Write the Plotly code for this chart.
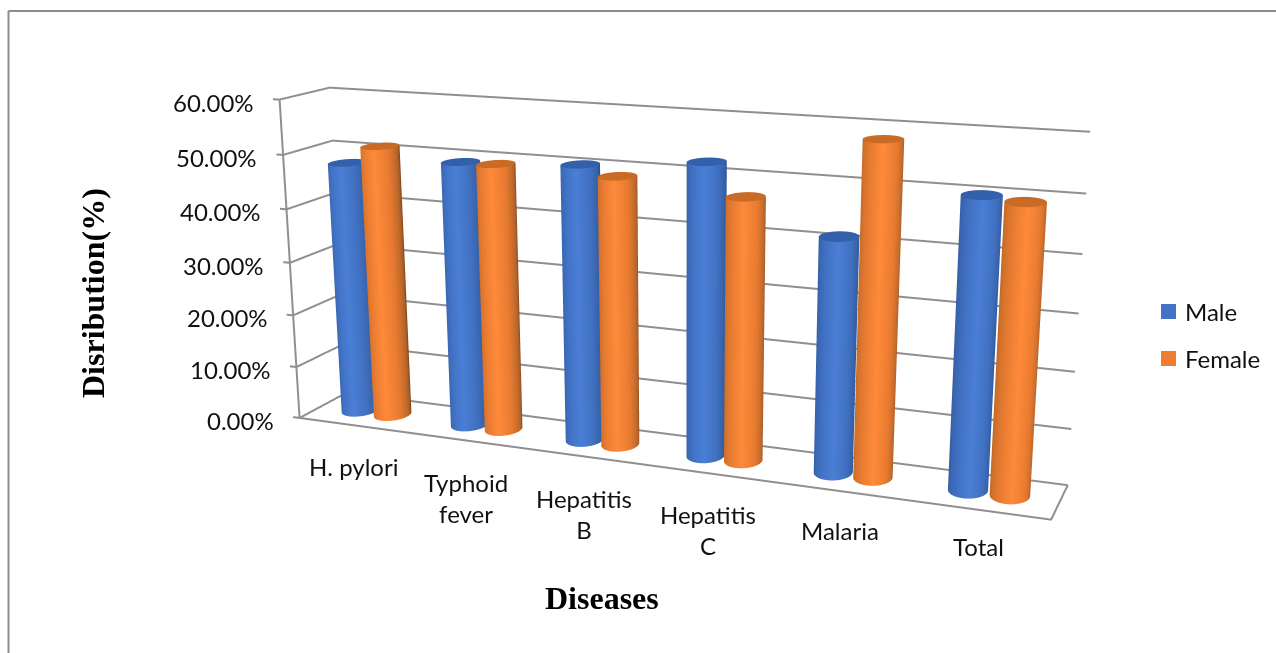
import numpy as np
import plotly.graph_objects as go

categories = ["H. pylori", "Typhoid<br>fever", "Hepatitis<br>B", "Hepatitis<br>C", "Malaria", "Total"]
male = [47.7, 49.4, 50.5, 52.5, 41.5, 50.2]
female = [51.2, 49.5, 48.9, 47.0, 58.2, 49.6]
tick_values = [0, 10, 20, 30, 40, 50, 60]
series_names = ["Male", "Female"]
label_drop = [41, 58, 58, 57, 39, 37]

W, H = 1368, 1440
TOP = 397
e = np.array([0.7746, -1.9324, 0.5357])
fw = np.array([0.6952, -1.7266, 0.474]) - e
fw /= np.linalg.norm(fw)
c = e + 2.2 * fw
roll, ay, az = 0.0054, 0.1172, 0.4272

fig = go.Figure()
xr = [-0.15, 6.15]; yr = [-0.05, 1.05]; zr = [-1, 61]
GRID = "#8f8f8f"

def line(x, y, z):
    fig.add_trace(go.Scatter3d(x=x, y=y, z=z, mode="lines", line=dict(color=GRID, width=4),
                               showlegend=False, hoverinfo="skip"))

for t in tick_values:
    line([-0.06, 0, 0, 6], [0, 0, 1, 1], [t, t, t, t])
line([0, 6, 6], [0, 0, 1], [0, 0, 0])
line([0, 0], [0, 0], [0, 60])

RX = 0.14
RY = 1.25 * RX / 6 / ay
OFF = 0.15
LIMIT = 100.0
STOPS = [0, .1, .3, .5, .7, .9, 1]
BLUE = list(zip(STOPS, ['#2e5290', '#3660a8', '#4070c2', '#4a7fd6', '#4070c0', '#325a9e', '#24427a']))
ORANGE = list(zip(STOPS, ['#a95a22', '#c46c2a', '#e57a30', '#ff8a3a', '#e87b30', '#b0622a', '#7d431a']))
PEAK = np.radians(-72)
th = np.linspace(PEAK - np.pi, PEAK + np.pi, 145)
LIGHT = dict(ambient=1, diffuse=0, specular=0, roughness=1, fresnel=0)

def cyl(cx, h, cs, capc):
    T, Z = np.meshgrid(th, [0, h])
    fig.add_trace(go.Surface(x=cx + RX * np.cos(T), y=.5 + RY * np.sin(T), z=Z,
                             surfacecolor=np.degrees(T - PEAK), colorscale=cs, cmin=-LIMIT, cmax=LIMIT,
                             showscale=False, lighting=LIGHT, hoverinfo="skip"))
    T, R = np.meshgrid(th, [0, 1])
    fig.add_trace(go.Surface(x=cx + R * RX * np.cos(T), y=.5 + R * RY * np.sin(T), z=h + 0 * T,
                             surfacecolor=0 * T, colorscale=[[0, capc], [1, capc]], showscale=False,
                             lighting=LIGHT, hoverinfo="skip"))

for i in range(len(categories)):
    cyl(i + .5 - OFF, male[i], BLUE, '#3360ab')
    cyl(i + .5 + OFF, female[i], ORANGE, '#c96a25')

FONT = "Lato"
def PX(x): return x / W
def PY(y): return 1 - (y + TOP) / H

ann = [
    dict(x=PX(93), y=PY(293), xref="paper", yref="paper", xanchor="center", yanchor="middle",
         text="<b>Disribution(%)</b>", textangle=-90, showarrow=False,
         font=dict(family="Liberation Serif", size=32, color="black")),
    dict(x=PX(602), y=PY(598), xref="paper", yref="paper", xanchor="center", yanchor="middle",
         text="<b>Diseases</b>", showarrow=False,
         font=dict(family="Liberation Serif", size=32, color="black")),
    dict(x=PX(1183), y=PY(311), xref="paper", yref="paper", text=series_names[0], xanchor="left", yanchor="middle",
         showarrow=False, font=dict(family=FONT, size=24, color="#111")),
    dict(x=PX(1183), y=PY(358), xref="paper", yref="paper", text=series_names[1], xanchor="left", yanchor="middle",
         showarrow=False, font=dict(family=FONT, size=24, color="#111")),
]
shapes = [
    dict(type="rect", xref="paper", yref="paper", x0=PX(1161), x1=PX(1176), y0=PY(304), y1=PY(319),
         fillcolor="#4472c4", line=dict(width=0)),
    dict(type="rect", xref="paper", yref="paper", x0=PX(1161), x1=PX(1176), y0=PY(351), y1=PY(366),
         fillcolor="#ed7d31", line=dict(width=0)),
    dict(type="line", xref="paper", yref="paper", x0=PX(8.5), x1=PX(1276), y0=PY(11), y1=PY(11),
         line=dict(color="#8c8c8c", width=2)),
    dict(type="line", xref="paper", yref="paper", x0=PX(8.5), x1=PX(8.5), y0=PY(11), y1=PY(653),
         line=dict(color="#8c8c8c", width=2)),
]
sa = [dict(x=-0.06, y=0, z=t, text="%.2f%%" % t, xanchor="right", xshift=-17, yshift=-3, showarrow=False,
           font=dict(family=FONT, size=24, color="#111")) for t in tick_values]
sa += [dict(x=i + .5, y=0, z=0, text=categories[i], yshift=-label_drop[i], showarrow=False,
            font=dict(family=FONT, size=24, color="#111")) for i in range(len(categories))]

fig.update_layout(
    width=W, height=H, margin=dict(l=0, r=0, t=0, b=0, autoexpand=False), paper_bgcolor="white",
    annotations=ann, shapes=shapes,
    scene=dict(domain=dict(x=[0, 1], y=[0, 1]), bgcolor="white", aspectmode="manual", annotations=sa,
               aspectratio=dict(x=(xr[1] - xr[0]) / 6, y=ay * (yr[1] - yr[0]), z=az * (zr[1] - zr[0]) / 60),
               camera=dict(eye=dict(x=e[0], y=e[1], z=e[2]), center=dict(x=c[0], y=c[1], z=c[2]),
                           up=dict(x=float(np.sin(roll)), y=0, z=float(np.cos(roll))),
                           projection=dict(type="perspective")),
               xaxis=dict(visible=False, range=xr), yaxis=dict(visible=False, range=yr),
               zaxis=dict(visible=False, range=zr)))
post = ("document.documentElement.style.overflow='hidden';document.body.style.margin='0';"
        "document.body.style.overflow='hidden';var g=document.getElementById('{plot_id}');"
        "g.style.position='absolute';g.style.left='0px';g.style.top='-%dpx';" % TOP)
fig.write_html("out.html", post_script=post, config=dict(displayModeBar=False))
